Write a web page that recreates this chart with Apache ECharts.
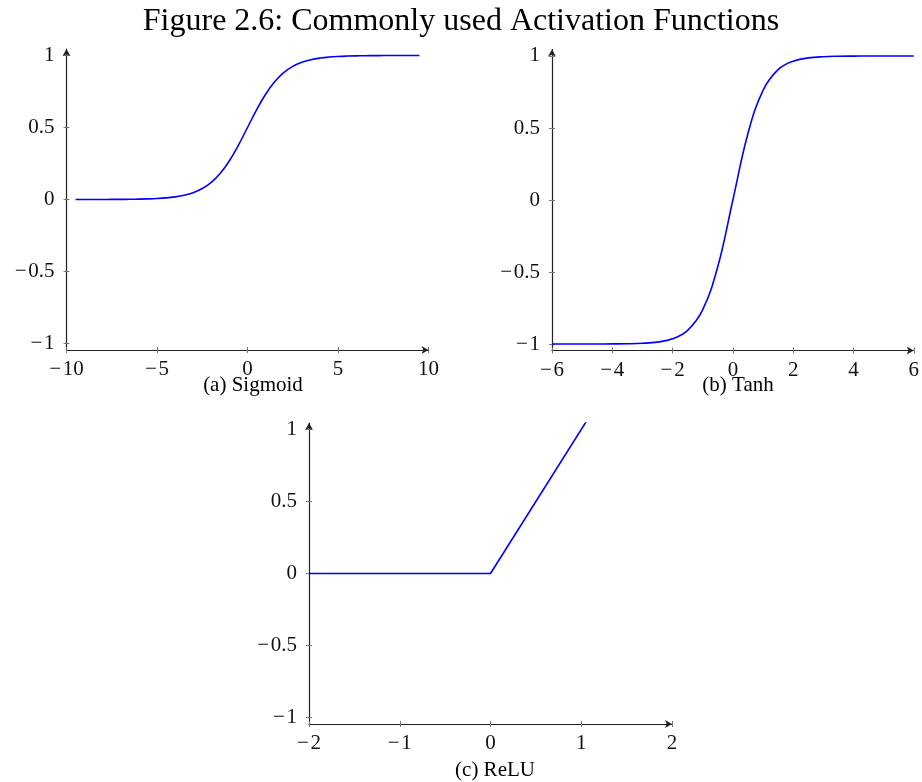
<!DOCTYPE html>
<html>
<head>
<meta charset="utf-8">
<script src="https://cdn.jsdelivr.net/npm/echarts@6/dist/echarts.min.js"></script>
<style>
  html, body { margin: 0; padding: 0; background: #fff; }
  #chart { width: 922px; height: 782px; }
</style>
</head>
<body>
<div id="chart"></div>
<script>
// Sigmoid samples (step 0.5)
const sigmoidX = [-9.5, -9, -8.5, -8, -7.5, -7, -6.5, -6, -5.5, -5, -4.5, -4, -3.5, -3, -2.5, -2, -1.5, -1, -0.5,
                  0, 0.5, 1, 1.5, 2, 2.5, 3, 3.5, 4, 4.5, 5, 5.5, 6, 6.5, 7, 7.5, 8, 8.5, 9, 9.5];
const sigmoidY = [0.0001, 0.0001, 0.0002, 0.0003, 0.0006, 0.0009, 0.0015, 0.0025, 0.0041, 0.0067, 0.0110, 0.0180, 0.0293, 0.0474, 0.0759, 0.1192, 0.1824, 0.2689, 0.3775,
                  0.5, 0.6225, 0.7311, 0.8176, 0.8808, 0.9241, 0.9526, 0.9707, 0.9820, 0.9890, 0.9933, 0.9959, 0.9975, 0.9985, 0.9991, 0.9994, 0.9997, 0.9998, 0.9999, 0.9999];

// Tanh samples (step 0.5)
const tanhX = [-6, -5.5, -5, -4.5, -4, -3.5, -3, -2.5, -2, -1.5, -1, -0.5, 0, 0.5, 1, 1.5, 2, 2.5, 3, 3.5, 4, 4.5, 5, 5.5, 6];
const tanhY = [-1.0, -1.0, -0.9999, -0.9998, -0.9993, -0.9982, -0.9951, -0.9866, -0.9640, -0.9051, -0.7616, -0.4621, 0,
               0.4621, 0.7616, 0.9051, 0.9640, 0.9866, 0.9951, 0.9982, 0.9993, 0.9998, 0.9999, 1.0, 1.0];

// ReLU vertices
const reluX = [-2, 0, 2];
const reluY = [0, 0, 2];

// Tick values
const yTicks = [-1, -0.5, 0, 0.5, 1];
const sigmoidTicks = [-10, -5, 0, 5, 10];
const tanhTicks = [-6, -4, -2, 0, 2, 4, 6];
const reluTicks = [-2, -1, 0, 1, 2];

const titleText = 'Figure 2.6: Commonly used Activation Functions';
const captions = ['(a) Sigmoid', '(b) Tanh', '(c) ReLU'];

const SERIF = '"Liberation Serif", "DejaVu Serif", serif';
const AXIS_COLOR = '#222';
const TICK_COLOR = '#777';

function fmt(v) {
  return v < 0 ? '\u2212\u200A' + String(-v) : String(v);
}

function pairs(xs, ys) {
  return xs.map((x, i) => [x, ys[i]]);
}

const yMin = -1.045, yMax = 1.045;

const panels = [
  { grid: { left: 66.5, top: 49, width: 362, height: 301 }, xMin: -10, xMax: 10, xTicks: sigmoidTicks, data: pairs(sigmoidX, sigmoidY), smooth: true },
  { grid: { left: 552, top: 49.5, width: 362, height: 301 }, xMin: -6, xMax: 6, xTicks: tanhTicks, data: pairs(tanhX, tanhY), smooth: true },
  { grid: { left: 309, top: 423, width: 363, height: 301 }, xMin: -2, xMax: 2, xTicks: reluTicks, data: pairs(reluX, reluY), smooth: false }
];

const grids = [], xAxes = [], yAxes = [], series = [];

panels.forEach((p, i) => {
  grids.push(Object.assign({ containLabel: false }, p.grid));
  // main x axis: line, arrow, outer ticks, labels
  xAxes.push({
    gridIndex: i, type: 'value', min: p.xMin, max: p.xMax, position: 'bottom',
    axisLine: { show: true, onZero: false, lineStyle: { color: AXIS_COLOR, width: 1.2 },
      symbol: ['none', 'arrow'], symbolSize: [6, 7] },
    axisTick: { show: true, inside: false, length: 3, customValues: p.xTicks, lineStyle: { color: TICK_COLOR, width: 1 } },
    axisLabel: { show: true, margin: 9, customValues: p.xTicks, formatter: fmt, fontFamily: SERIF, fontSize: 21, color: '#111' },
    splitLine: { show: false }
  });
  // companion x axis: inner half of the crossing ticks
  xAxes.push({
    gridIndex: i, type: 'value', min: p.xMin, max: p.xMax, position: 'bottom', offset: 0,
    axisLine: { show: false, onZero: false },
    axisTick: { show: true, inside: true, length: 3, customValues: p.xTicks, lineStyle: { color: TICK_COLOR, width: 1 } },
    axisLabel: { show: false },
    splitLine: { show: false }
  });
  yAxes.push({
    gridIndex: i, type: 'value', min: yMin, max: yMax, position: 'left',
    axisLine: { show: true, onZero: false, lineStyle: { color: AXIS_COLOR, width: 1.2 },
      symbol: ['none', 'arrow'], symbolSize: [6, 7] },
    axisTick: { show: true, inside: false, length: 3, customValues: yTicks, lineStyle: { color: TICK_COLOR, width: 1 } },
    axisLabel: { show: true, margin: 12, customValues: yTicks, formatter: fmt, fontFamily: SERIF, fontSize: 21, color: '#111' },
    splitLine: { show: false }
  });
  yAxes.push({
    gridIndex: i, type: 'value', min: yMin, max: yMax, position: 'left', offset: 0,
    axisLine: { show: false, onZero: false },
    axisTick: { show: true, inside: true, length: 3, customValues: yTicks, lineStyle: { color: TICK_COLOR, width: 1 } },
    axisLabel: { show: false },
    splitLine: { show: false }
  });
  series.push({
    type: 'line', xAxisIndex: 2 * i, yAxisIndex: 2 * i, data: p.data,
    smooth: p.smooth ? 0.4 : false, clip: true,
    showSymbol: false, silent: true,
    lineStyle: { color: '#0000ff', width: 1.6 }
  });
});

const capStyle = { fontFamily: SERIF, fontSize: 21, fontWeight: 'normal', color: '#000' };
const titles = [
  { text: titleText, left: 'center', top: 1, textStyle: { fontFamily: SERIF, fontSize: 32, fontWeight: 'normal', color: '#000' } },
  { text: captions[0], left: 248, top: 370, textAlign: 'center', textStyle: capStyle },
  { text: captions[1], left: 733, top: 370, textAlign: 'center', textStyle: capStyle },
  { text: captions[2], left: 490, top: 755, textAlign: 'center', textStyle: capStyle }
];

const chart = echarts.init(document.getElementById('chart'), null, { renderer: 'canvas' });
chart.setOption({
  animation: false,
  backgroundColor: '#fff',
  title: titles,
  grid: grids,
  xAxis: xAxes,
  yAxis: yAxes,
  series: series
});
</script>
</body>
</html>
